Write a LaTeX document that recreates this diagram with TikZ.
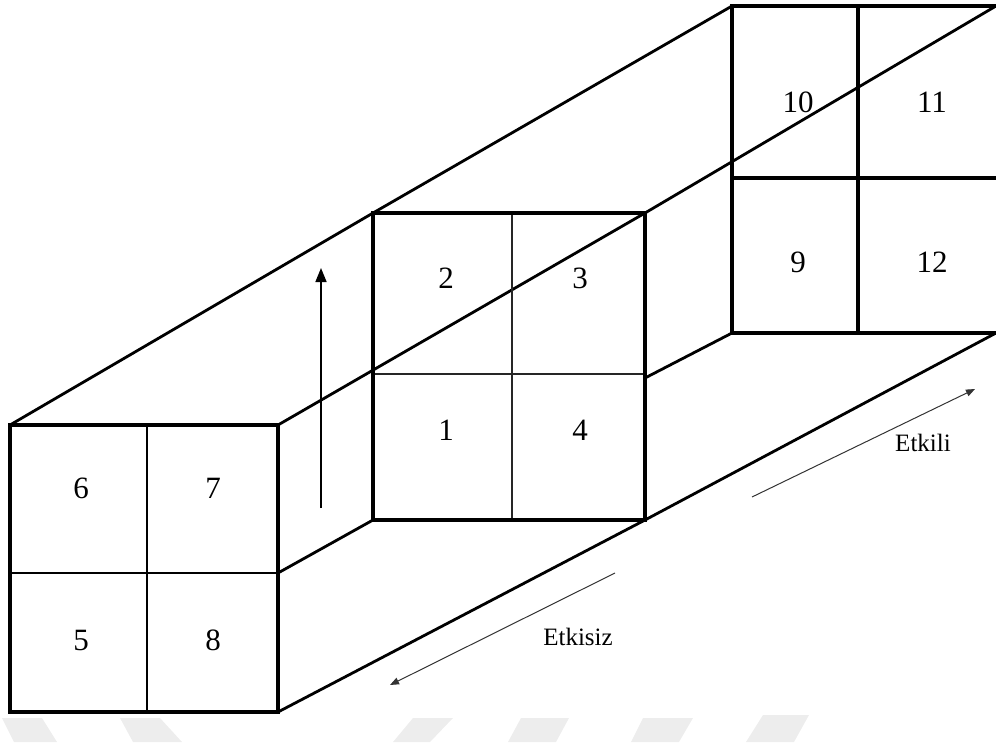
\documentclass[tikz,border=0pt]{standalone}
\usepackage{fontspec}
\setmainfont{Liberation Serif}
\usetikzlibrary{arrows.meta}
\begin{document}
\begin{tikzpicture}[x=1pt,y=-1pt,
  frontbox/.style={line width=4.5pt,line join=miter},
  midbox/.style={line width=3.2pt},
  backbox/.style={line width=3.2pt},
  thingrid/.style={line width=1.2pt},
  midgrid/.style={line width=1.6pt,black!85},
  edgeline/.style={line width=2.8pt},
  uparrow/.style={line width=1.6pt,-{Triangle[length=14pt,width=11pt]}},
  flowarrow/.style={line width=1pt,black!80,-{Triangle[length=9pt,width=7pt]}},
  num/.style={font=\fontsize{31}{33}\selectfont,inner sep=0pt},
  lab/.style={font=\fontsize{25}{27}\selectfont,inner sep=0pt},
  wm/.style={fill=black!7,draw=none}]
\useasboundingbox (0,0) rectangle (996,742);
% watermark fragments
\fill[wm] (2,718) -- (42,718) -- (57,742) -- (14,742) -- cycle;
\fill[wm] (120,718) -- (160,718) -- (182,742) -- (133,742) -- cycle;
\fill[wm] (413,718) -- (453,718) -- (430,742) -- (393,742) -- cycle;
\fill[wm] (521,718) -- (569,718) -- (556,742) -- (508,742) -- cycle;
\fill[wm] (643,718) -- (693,718) -- (679,742) -- (631,742) -- cycle;
\fill[wm] (763,715) -- (809,715) -- (794,742) -- (746,742) -- cycle;
% coordinates
\coordinate (FTL) at (10,425);  \coordinate (FTR) at (278,425);
\coordinate (FBR) at (278,712); \coordinate (FBL) at (10,712);
\coordinate (FML) at (10,573);  \coordinate (FMR) at (278,573);
\coordinate (FMT) at (147,425); \coordinate (FMB) at (147,712);
\coordinate (MTL) at (373,213); \coordinate (MTR) at (645,213);
\coordinate (MBR) at (645,520); \coordinate (MBL) at (373,520);
\coordinate (MML) at (373,374); \coordinate (MMR) at (645,374);
\coordinate (MMT) at (512,213); \coordinate (MMB) at (512,520);
\coordinate (MR2) at (645,378);
\coordinate (BTL) at (732,6);   \coordinate (BTR) at (996,6);
\coordinate (BBL) at (732,333); \coordinate (BBR) at (996,333);
\coordinate (BML) at (732,178); \coordinate (BMR) at (996,178);
\coordinate (BMT) at (858,6);   \coordinate (BMB) at (858,333);
% corridor edges
\draw[edgeline] (FTL) -- (MTL) -- (BTL);
\draw[edgeline] (FTR) -- (MTR) -- (BTR);
\draw[edgeline] (FBR) -- (MBR) -- (BBR);
\draw[edgeline] (FMR) -- (MBL);
\draw[edgeline] (MR2) -- (BBL);
% back section
\draw[backbox] (BTR) -- (BTL) -- (BBL) -- (BBR);
\draw[backbox] (BMT) -- (BMB);
\draw[backbox] (BML) -- (BMR);
% middle section
\draw[midgrid] (MMT) -- (MMB);
\draw[midgrid] (MML) -- (MMR);
\draw[midbox] (MTL) rectangle (MBR);
% front section
\draw[thingrid] (FMT) -- (FMB);
\draw[thingrid] (FML) -- (FMR);
\draw[frontbox] (FTL) rectangle (FBR);
% numbers
\node[num] (n6) at (81,488) {6};
\node[num] (n7) at (213,488) {7};
\node[num] (n5) at (81,640) {5};
\node[num] (n8) at (213,640) {8};
\node[num] (n2) at (446,278) {2};
\node[num] (n3) at (580,278) {3};
\node[num] (n1) at (446,430) {1};
\node[num] (n4) at (580,430) {4};
\node[num] (n10) at (798,102) {10};
\node[num] (n11) at (932,102) {11};
\node[num] (n9) at (798,262) {9};
\node[num] (n12) at (932,262) {12};
% arrows
\coordinate (UA1) at (321,508); \coordinate (UA2) at (321,268);
\draw[uparrow] (UA1) -- (UA2);
\coordinate (EZ1) at (615,573); \coordinate (EZ2) at (390,685);
\draw[flowarrow] (EZ1) -- (EZ2);
\node[lab] (etkisiz) at (578,637) {Etkisiz};
\coordinate (EL1) at (752,497); \coordinate (EL2) at (975,389);
\draw[flowarrow] (EL1) -- (EL2);
\node[lab] (etkili) at (923,443) {Etkili};
\end{tikzpicture}
\end{document}
